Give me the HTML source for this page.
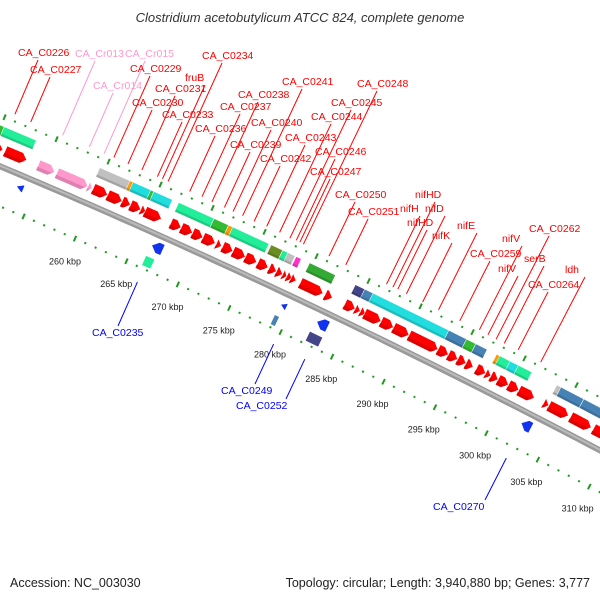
<!DOCTYPE html>
<html><head><meta charset="utf-8"><style>
html,body{margin:0;padding:0;background:#fff;}
svg{display:block;font-family:"Liberation Sans",sans-serif;}
</style></head><body>
<svg id="map" width="600" height="600" viewBox="0 0 600 600" xmlns="http://www.w3.org/2000/svg">
<text x="300" y="22" text-anchor="middle" font-size="13" font-style="italic" fill="#333">Clostridium acetobutylicum ATCC 824, complete genome</text>
<text x="10" y="587" font-size="12.5" fill="#222">Accession: NC_003030</text>
<text x="590" y="587" font-size="12.5" fill="#222" text-anchor="end">Topology: circular; Length: 3,940,880 bp; Genes: 3,777</text>
<g id="layer"></g>
</svg>
<script>
// ---- data (kbp) ----
const fwdStarts = [250.0,251.2,254.4,256.2,259.2,259.7,261.1,262.5,263.3,264.3,264.7,267.2,268.2,269.3,270.3,271.6,272.2,273.2,274.4,275.6,276.7,277.4,278.0,278.4,278.8,279.7,282.1,284.0,285.0,285.5,285.9,287.5,288.7,290.2,293.0,294.0,294.9,295.7,296.7,297.6,298.1,298.8,299.8,300.8,303.2,303.7,305.8,308.0];
const fwdEnds   = [251.0,253.3,256.0,259.2,259.6,261.1,262.5,263.3,264.3,264.8,266.3,268.2,269.3,270.3,271.5,272.1,273.2,274.4,275.5,276.6,277.4,278.0,278.4,278.9,279.3,281.9,282.8,285.0,285.5,286.0,287.5,288.7,290.2,293.0,294.0,294.9,295.7,296.4,297.6,298.1,298.8,299.8,300.8,302.3,303.7,305.6,307.8,309.5];
const fwdPink   = [2,3,4];
const boxStarts = [249.0,250.3,259.5,262.4,262.7,264.4,264.7,267.1,270.5,271.9,272.3,276.0,277.1,277.6,278.4,279.7,284.1,285.0,285.8,293.1,294.8,295.7,297.7,298.0,299.0,299.8,303.5,303.9,306.1];
const boxEnds   = [250.3,253.4,262.6,263.2,264.5,265.0,266.5,270.5,271.9,272.5,275.8,277.1,277.9,278.3,278.9,282.2,285.3,286.0,293.3,295.2,295.7,296.8,298.4,299.2,300.1,301.1,304.2,306.1,308.1];
const boxCats   = ['G','S','X','O','C','G','C','S','G','O','S','V','S','X','M','D','P','B','C','B','G','B','O','S','C','S','X','B','B'];
const revStarts = [253.4,266.5,279.0,282.5,302.3];
const revEnds   = [254.0,267.5,279.5,283.5,303.2];
const innerBoxStarts = [266.4,278.9,282.3];
const innerBoxEnds   = [267.2,279.3,283.5];
const innerBoxCats   = ['S','B','P'];
const tickKbp = [260,265,270,275,280,285,290,295,300,305,310,315];
const tickLabels = ['260 kbp','265 kbp','270 kbp','275 kbp','280 kbp','285 kbp','290 kbp','295 kbp','300 kbp','305 kbp','310 kbp','315 kbp'];
const geneNames = ['CA_C0226','CA_C0227','CA_Cr013','CA_Cr015','CA_Cr014','CA_C0229','fruB','CA_C0231','CA_C0230','CA_C0233','CA_C0234','CA_C0236','CA_C0237','CA_C0238','CA_C0239','CA_C0240','CA_C0241','CA_C0242','CA_C0243','CA_C0244','CA_C0245','CA_C0246','CA_C0247','CA_C0248','CA_C0250','CA_C0251','nifHD','nifH','nifD','nifHD','nifK','nifE','nifV','CA_C0262','CA_C0259','serB','nifV','ldh','CA_C0264'];
const geneLabelX = [18,30,75,125,93,130,185,155,132,162,202,195,220,238,230,251,282,260,285,311,331,315,310,357,335,348,415,400,425,407,432,457,502,529,470,524,498,565,528];
const geneLabelY = [56,73,57,57,89,72,81,92,106,118,59,132,110,98,148,126,85,162,141,120,106,155,175,87,198,215,198,212,212,226,239,229,242,232,257,262,272,273,288];
const revNames = ['CA_C0235','CA_C0249','CA_C0252','CA_C0270'];
const revLabelX = [92,221,236,433];
const revLabelY = [336,394,409,510];
const revLineOff = [26,34,50,52];

const catColor = {G:'#33bb33',S:'#22ee99',X:'#c0c0c0',O:'#ff9900',C:'#22dddd',V:'#6b8e23',M:'#ff33cc',D:'#33aa33',P:'#444488',B:'#4682b4'};
// ---- axis / geometry ----
const NS='http://www.w3.org/2000/svg';
const layer=document.getElementById('layer');
function sOf(k){return 91+(k-260)*10.34;}
function Y(s){return 163+0.42*s+0.0000889*s*s;}
function th(s){return Math.atan(0.42+0.0001778*s);}
function P(s,d){const t=th(s);return [s+d*Math.sin(t),Y(s)-d*Math.cos(t)];}
function mk(tag,attrs,parent){const e=document.createElementNS(NS,tag);for(const k in attrs)e.setAttribute(k,attrs[k]);(parent||layer).appendChild(e);return e;}
function frame(k1,k2,dc){const s1=sOf(k1),s2=sOf(k2);const p=P(s1,dc);const t=th((s1+s2)/2);const L=(s2-s1)/Math.cos(t);
  const g=mk('g',{transform:`translate(${p[0].toFixed(2)},${p[1].toFixed(2)}) rotate(${(t*180/Math.PI).toFixed(2)})`});return [g,L];}

// backbone
(function(){let top=[],bot=[],mid=[];for(let s=-30;s<=660;s+=10){top.push(P(s,0));mid.push(P(s,-2.5));bot.push(P(s,-6));}
 const pts=top.concat(bot.reverse()).map(p=>p[0].toFixed(1)+','+p[1].toFixed(1)).join(' ');
 const bb=mk('polygon',{points:pts,fill:'#999'});
 
 
 mk('polyline',{points:mid.map(p=>p[0].toFixed(1)+','+p[1].toFixed(1)).join(' '),fill:'none',stroke:'#bbb','stroke-width':2});
})();

// dotted rings
for(let k=248;k<=316;k++){
  const major=(k%5===0);
  [44,-40].forEach(d=>{
    const [g]=frame(k,k+0.01,d);
    mk('rect',major?{x:-1,y:-3,width:2,height:6,fill:'#229922'}:{x:-1,y:-1,width:2,height:2,fill:'#229922'},g);
    
    
  });
}
tickKbp.forEach((k,i)=>{const p=P(sOf(k),-65);
  const t=mk('text',{x:p[0].toFixed(1),y:(p[1]+3).toFixed(1),'font-size':9,'text-anchor':'middle',fill:'#222'});t.textContent=tickLabels[i];
  
  });

// forward genes
fwdStarts.forEach((k1,i)=>{const [g,L]=frame(k1,fwdEnds[i],13);const h=11,hd=Math.min(L,6);
  const col=fwdPink.includes(i)?'#ff99cc':'#ff0000';
  mk('polygon',{points:`0,${-h/2} ${L-hd},${-h/2} ${L},0 ${L-hd},${h/2} 0,${h/2}`,fill:col,stroke:'#fff','stroke-width':0.6},g);
  mk('polygon',{points:`0,${h/6} ${L-hd/3},${h/6} ${L-hd},${h/2} 0,${h/2}`,fill:fwdPink.includes(i)?'#e080b0':'#dd0000'},g);
  
  });
// COG boxes
boxStarts.forEach((k1,i)=>{const [g,L]=frame(k1,boxEnds[i],30);const h=10;
  mk('rect',{x:0,y:-h/2,width:L,height:h,fill:catColor[boxCats[i]],stroke:'#fff','stroke-width':0.5},g);
  mk('rect',{x:0,y:h/4,width:L,height:h/4,fill:'#000','fill-opacity':0.15},g);
  
  });
// reverse genes
revStarts.forEach((k1,i)=>{const [g,L]=frame(k1,revEnds[i],-15);const h=L>8?11:7,hd=Math.min(L,6);
  mk('polygon',{points:`0,0 ${hd},${-h/2} ${L},${-h/2} ${L},${h/2} ${hd},${h/2}`,fill:'#1133ee'},g);
  
  });
innerBoxStarts.forEach((k1,i)=>{const [g,L]=frame(k1,innerBoxEnds[i],-32);
  mk('rect',{x:0,y:-5,width:L,height:10,fill:catColor[innerBoxCats[i]]},g);
  
  });

// gene labels with leader lines
geneNames.forEach((n,i)=>{const pink=n.indexOf('Cr')>=0;const col=pink?'#ff99cc':'#ff0000';
  let x=geneLabelX[i]+20,y=geneLabelY[i]+4;const x0=x,y0=y;
  for(let j=0;j<400&&y<Y(x)-55;j++){const t=th(x);x-=Math.sin(t);y+=Math.cos(t);}
  const ln=mk('line',{x1:x0,y1:y0,x2:x.toFixed(1),y2:y.toFixed(1),stroke:col,'stroke-width':1});
  
  
  const t=mk('text',{x:geneLabelX[i],y:geneLabelY[i],'font-size':10.5,fill:col});t.textContent=n;
  
  });
revNames.forEach((n,i)=>{let x=revLabelX[i]+revLineOff[i],y=revLabelY[i]-10;const x0=x,y0=y;
  for(let j=0;j<400&&y>Y(x)+60;j++){const t=th(x);x+=Math.sin(t);y-=Math.cos(t);}
  const ln=mk('line',{x1:x0,y1:y0,x2:x.toFixed(1),y2:y.toFixed(1),stroke:'#0000ff','stroke-width':1});
  
  
  const t=mk('text',{x:revLabelX[i],y:revLabelY[i],'font-size':10.5,fill:'#0000ff'});t.textContent=n;
  
  });
</script>
</body></html>
